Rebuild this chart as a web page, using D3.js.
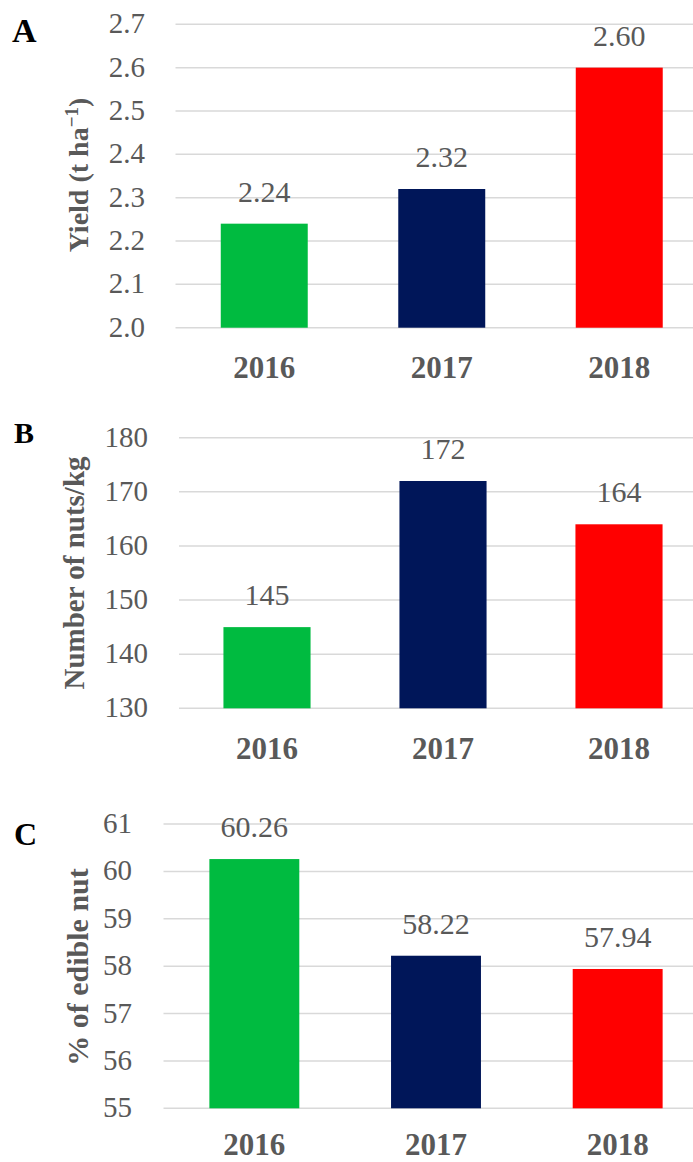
<!DOCTYPE html>
<meta charset="utf-8">
<style>
body { margin: 0; background: #fff; }
svg text { font-family: "Liberation Serif", "DejaVu Serif", serif; }
.grid line { stroke: #d9d9d9; stroke-width: 1.5px; }
.tick-label { fill: #595959; font-size: 29px; text-anchor: end; }
.value-label { fill: #595959; font-size: 30px; text-anchor: middle; }
.cat-label { fill: #595959; font-size: 31px; font-weight: bold; text-anchor: middle; }
.axis-title { fill: #595959; font-weight: bold; text-anchor: middle; }
.panel-letter { fill: #000; font-weight: bold; }
</style>
<body>
<script src="https://d3js.org/d3.v7.min.js"></script>
<script>

// data
var years = ["2016", "2017", "2018"];
var barColors = ["#00bb40", "#001659", "#ff0000"];

var yieldValues = [2.24, 2.32, 2.60];
var yieldLabels = ["2.24", "2.32", "2.60"];
var yieldTicks = [2.0, 2.1, 2.2, 2.3, 2.4, 2.5, 2.6, 2.7];

var nutsValues = [145, 172, 164];
var nutsLabels = ["145", "172", "164"];
var nutsTicks = [130, 140, 150, 160, 170, 180];

var edibleValues = [60.26, 58.22, 57.94];
var edibleLabels = ["60.26", "58.22", "57.94"];
var edibleTicks = [55, 56, 57, 58, 59, 60, 61];

var W = 693, H = 1162;

var svg = d3.select("body").append("svg")
    .attr("width", W)
    .attr("height", H);

function drawPanel(p) {
  var g = svg.append("g");

  var y = d3.scaleLinear()
      .domain([p.ticks[0], p.ticks[p.ticks.length - 1]])
      .range([p.bottom, p.top]);

  // each year gets an equal slot, bar centred in it
  var x = d3.scaleBand()
      .domain(years)
      .range([p.left, p.right])
      .paddingInner(p.pad)
      .paddingOuter(p.pad / 2);

  // gridlines
  g.append("g").attr("class", "grid")
    .selectAll("line")
    .data(p.ticks)
    .enter().append("line")
      .attr("x1", p.left)
      .attr("x2", W)
      .attr("y1", function(d) { return y(d); })
      .attr("y2", function(d) { return y(d); });

  // tick labels
  g.selectAll(".tick-label")
    .data(p.ticks)
    .enter().append("text")
      .attr("class", "tick-label")
      .attr("x", p.tickX)
      .attr("y", function(d) { return y(d) + 9; })
      .text(function(d) { return p.fmt(d); });

  // bars
  g.selectAll(".bar")
    .data(p.values)
    .enter().append("rect")
      .attr("class", "bar")
      .attr("x", function(d, i) { return x(years[i]); })
      .attr("width", x.bandwidth())
      .attr("y", function(d) { return y(d); })
      .attr("height", function(d) { return p.bottom - y(d); })
      .attr("fill", function(d, i) { return barColors[i]; });

  // value labels
  g.selectAll(".value-label")
    .data(p.values)
    .enter().append("text")
      .attr("class", "value-label")
      .attr("x", function(d, i) { return x(years[i]) + x.bandwidth() / 2; })
      .attr("y", function(d) { return y(d) - 22; })
      .text(function(d, i) { return p.labels[i]; });

  // category labels
  g.selectAll(".cat-label")
    .data(years)
    .enter().append("text")
      .attr("class", "cat-label")
      .attr("x", function(d) { return x(d) + x.bandwidth() / 2; })
      .attr("y", p.catY)
      .text(function(d) { return d; });

  // y axis title
  var t = g.append("text")
      .attr("class", "axis-title")
      .attr("transform", "translate(" + p.titleX + "," + p.titleY + ") rotate(-90)")
      .style("font-size", p.titleSize + "px");
  p.title(t);

  // panel letter
  g.append("text")
      .attr("class", "panel-letter")
      .attr("x", p.letterX)
      .attr("y", p.letterY)
      .style("font-size", p.letterSize + "px")
      .text(p.letter);
}

drawPanel({
  values: yieldValues, labels: yieldLabels, ticks: yieldTicks,
  fmt: d3.format(".1f"),
  top: 24.3, bottom: 327.7, left: 175.5, right: 708, pad: 0.51,
  tickX: 145, catY: 378,
  titleX: 88, titleY: 175, titleSize: 28,
  title: function(t) {
    t.append("tspan").text("Yield (t ha");
    t.append("tspan").attr("dy", -10).style("font-size", "19px").text("\u22121");
    t.append("tspan").attr("dy", 10).text(")");
  },
  letter: "A", letterX: 12, letterY: 42, letterSize: 34
});

drawPanel({
  values: nutsValues, labels: nutsLabels, ticks: nutsTicks,
  fmt: d3.format("d"),
  top: 437.7, bottom: 708.3, left: 179, right: 707, pad: 0.505,
  tickX: 148, catY: 759,
  titleX: 84, titleY: 573, titleSize: 29,
  title: function(t) { t.text("Number of nuts/kg"); },
  letter: "B", letterX: 14, letterY: 443, letterSize: 30
});

drawPanel({
  values: edibleValues, labels: edibleLabels, ticks: edibleTicks,
  fmt: d3.format("d"),
  top: 824, bottom: 1108.3, left: 163.5, right: 708.5, pad: 0.505,
  tickX: 132, catY: 1155,
  titleX: 88, titleY: 967, titleSize: 30,
  title: function(t) { t.text("% of edible nut"); },
  letter: "C", letterX: 14, letterY: 845, letterSize: 32
});

</script>
</body>
